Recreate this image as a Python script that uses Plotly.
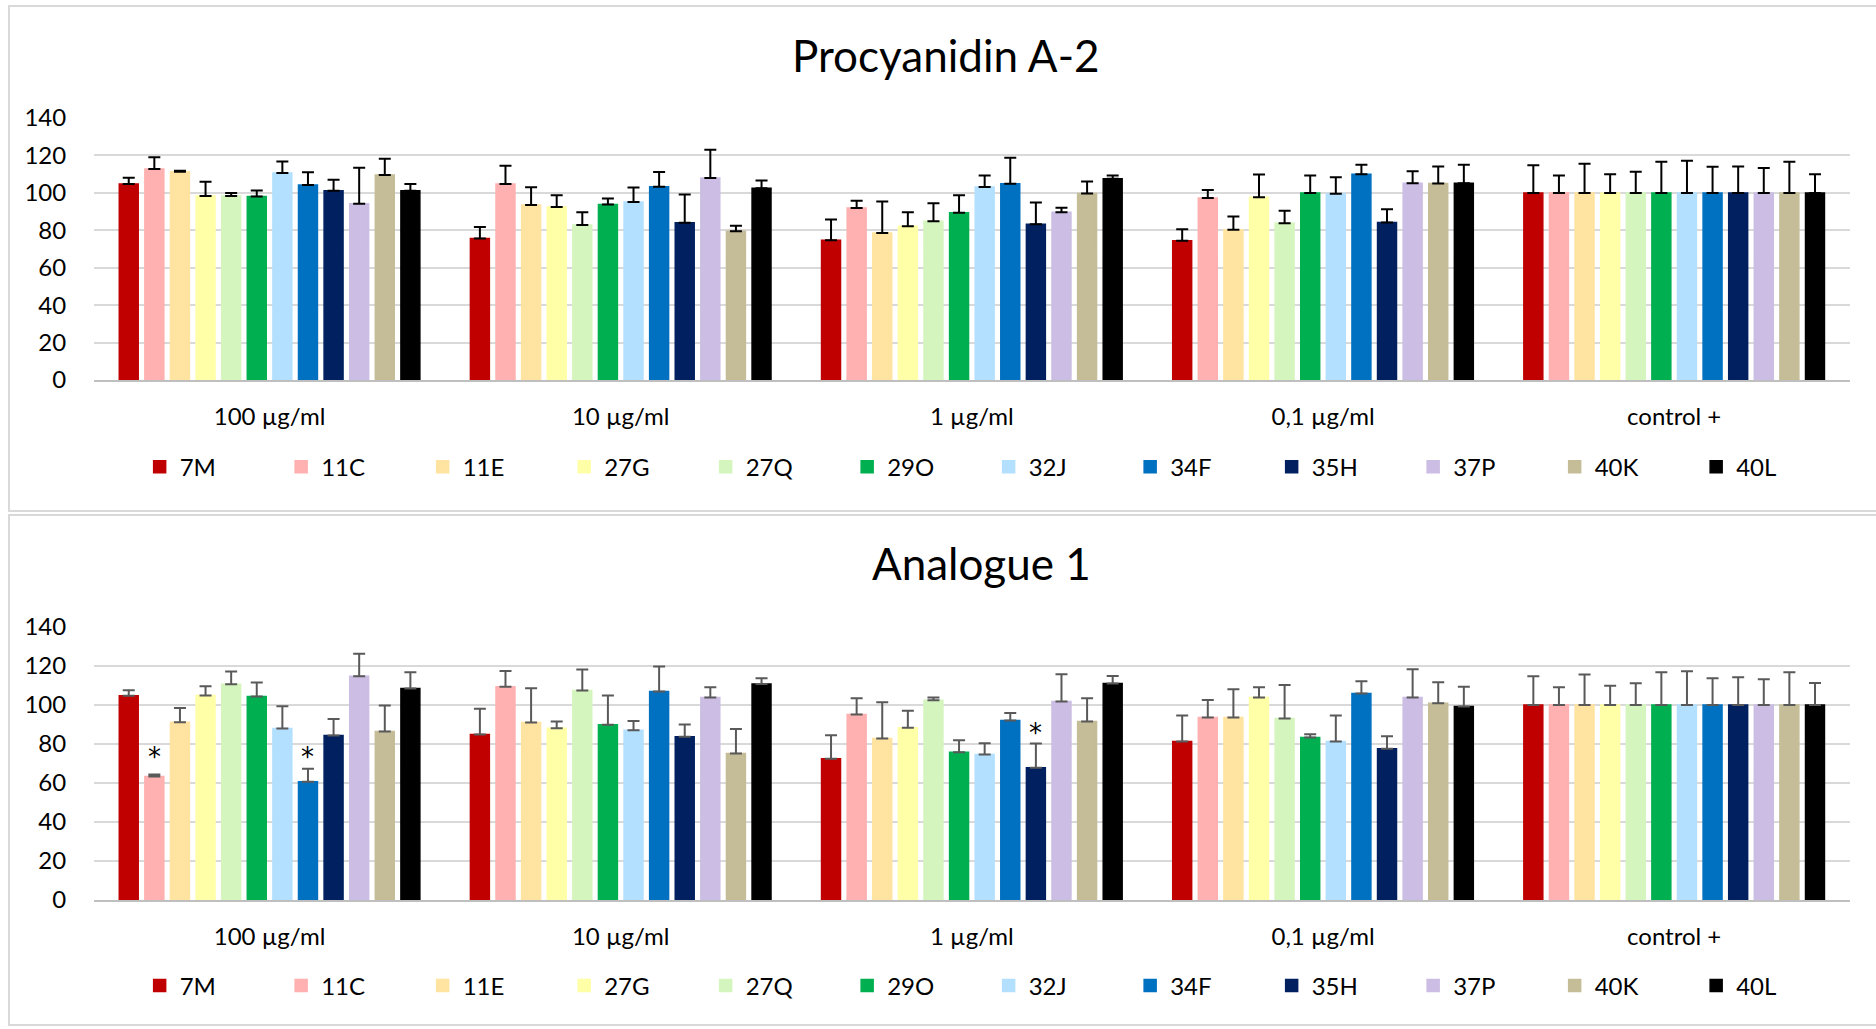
import plotly.graph_objects as go

categories = ["100 µg/ml", "10 µg/ml", "1 µg/ml", "0,1 µg/ml", "control +"]
strains = ["7M", "11C", "11E", "27G", "27Q", "29O", "32J", "34F", "35H", "37P", "40K", "40L"]
colors = ["#C00000", "#FFB0B0", "#FFE3A0", "#FFFFA8", "#D5F5BE", "#00B050",
          "#B3E0FF", "#0070C0", "#002060", "#CBBDE3", "#C4BD97", "#000000"]
y_ticks = [0, 20, 40, 60, 80, 100, 120, 140]

# Procyanidin A-2 (one value per strain, per concentration)
pa2_100 = [104.7, 112.7, 111.3, 98.4, 98.4, 98.1, 110.6, 104.2, 101.1, 94.2, 109.5, 101.1]
pa2_100_err = [3.4, 6.3, 0.5, 7.5, 1.5, 3.2, 6.2, 6.8, 5.9, 19.2, 8.7, 3.6]
pa2_10 = [75.6, 104.7, 93.5, 92.4, 82.8, 93.8, 95.1, 103.3, 84.0, 107.9, 79.5, 102.5]
pa2_10_err = [6.2, 9.8, 9.5, 6.4, 6.8, 3.2, 7.8, 7.8, 15.2, 15.2, 3.0, 4.1]
pa2_1 = [74.7, 91.9, 78.5, 82.2, 84.9, 89.4, 103.1, 104.9, 83.3, 89.7, 99.7, 107.5]
pa2_1_err = [11.1, 3.9, 16.9, 7.5, 9.5, 9.3, 6.2, 13.9, 11.6, 2.3, 6.4, 1.8]
pa2_01 = [74.4, 97.2, 80.3, 97.7, 83.8, 99.9, 99.5, 109.9, 84.2, 105.2, 105.0, 105.2]
pa2_01_err = [6.1, 4.3, 7.1, 12.1, 6.6, 9.4, 8.9, 5.2, 7.0, 6.4, 9.1, 9.8]
pa2_ctrl = [100, 100, 100, 100, 100, 100, 100, 100, 100, 100, 100, 100]
pa2_ctrl_err = [14.7, 9.3, 15.6, 9.9, 11.3, 16.6, 17.2, 14.0, 14.1, 13.3, 16.6, 9.9]

# Analogue 1
an1_100 = [104.7, 63.3, 91.2, 104.8, 110.6, 104.3, 87.9, 60.6, 84.3, 114.7, 86.4, 108.4]
an1_100_err = [2.9, 1.0, 7.2, 4.8, 6.5, 7.2, 11.4, 6.7, 8.5, 11.6, 13.3, 8.4]
an1_10 = [84.9, 109.4, 91.0, 88.1, 107.4, 89.8, 87.0, 106.9, 83.7, 103.8, 75.1, 110.8]
an1_10_err = [13.1, 8.0, 17.6, 3.4, 10.8, 15.0, 4.8, 12.8, 6.3, 5.3, 12.6, 2.9]
an1_1 = [72.4, 95.1, 82.8, 88.3, 102.4, 75.8, 74.6, 92.0, 67.8, 101.8, 91.5, 111.0]
an1_1_err = [12.1, 8.4, 18.6, 8.7, 1.4, 6.1, 5.8, 3.9, 12.5, 14.0, 12.0, 3.8]
an1_01 = [81.3, 93.6, 93.6, 103.8, 93.1, 83.3, 81.3, 105.9, 77.5, 103.8, 100.9, 99.2]
an1_01_err = [13.3, 8.9, 14.5, 5.3, 17.1, 1.7, 13.3, 6.3, 6.5, 14.5, 10.8, 10.1]
an1_ctrl = [100, 100, 100, 100, 100, 100, 100, 100, 100, 100, 100, 100]
an1_ctrl_err = [14.7, 9.1, 15.6, 9.8, 11.1, 16.8, 17.3, 13.7, 14.2, 13.2, 16.8, 11.3]

# significance stars on Analogue 1: (category index, strain index, y of star)
star_cat = [0, 0, 2]
star_strain = [1, 7, 8]
star_y = [74.6, 74.6, 87.4]

FONT = "Lato"
BARGAP = 0.125
BARGROUPGAP = 0.26

pa2_vals = [pa2_100, pa2_10, pa2_1, pa2_01, pa2_ctrl]
pa2_errs = [pa2_100_err, pa2_10_err, pa2_1_err, pa2_01_err, pa2_ctrl_err]
an1_vals = [an1_100, an1_10, an1_1, an1_01, an1_ctrl]
an1_errs = [an1_100_err, an1_10_err, an1_1_err, an1_01_err, an1_ctrl_err]

fig = go.Figure()

for i, s in enumerate(strains):
    fig.add_trace(go.Bar(
        x=categories, y=[v[i] for v in pa2_vals], name=s,
        marker=dict(color=colors[i], line=dict(width=1.5, color=colors[i])),
        error_y=dict(type="data", symmetric=False,
                     array=[e[i] for e in pa2_errs], arrayminus=[0] * 5,
                     color="#000000", thickness=2, width=6),
        xaxis="x", yaxis="y", legend="legend", offsetgroup=str(i),
    ))
for i, s in enumerate(strains):
    fig.add_trace(go.Bar(
        x=categories, y=[v[i] for v in an1_vals], name=s,
        marker=dict(color=colors[i], line=dict(width=1.5, color=colors[i])),
        error_y=dict(type="data", symmetric=False,
                     array=[e[i] for e in an1_errs], arrayminus=[0] * 5,
                     color="#595959", thickness=2, width=6),
        xaxis="x2", yaxis="y2", legend="legend2", offsetgroup=str(i),
    ))

n = len(strains)
annotations = []
for c, si, yv in zip(star_cat, star_strain, star_y):
    xpos = c + (si - (n - 1) / 2) * (1 - BARGAP) / n
    annotations.append(dict(x=xpos, y=yv, xref="x2", yref="y2", text="*",
                            showarrow=False, xanchor="center", yanchor="middle",
                            font=dict(family="DejaVu Sans", size=26, color="#000000"),
                            yshift=-3))

annotations.append(dict(x=0.504, y=0.9466, xref="paper", yref="paper", text="Procyanidin A-2",
                        showarrow=False, xanchor="center", yanchor="middle",
                        font=dict(family=FONT, size=44, color="#000000")))
annotations.append(dict(x=0.523, y=0.4528, xref="paper", yref="paper", text="Analogue 1",
                        showarrow=False, xanchor="center", yanchor="middle",
                        font=dict(family=FONT, size=44, color="#000000")))

xdom = [0.0501, 0.986]
xaxis_common = dict(domain=xdom, showline=True, linecolor="#BFBFBF", linewidth=2,
                    showgrid=False, ticks="outside", ticklen=14, tickcolor="rgba(0,0,0,0)",
                    tickfont=dict(family=FONT, size=24, color="#000000"), fixedrange=True,
                    automargin=False)
yaxis_common = dict(range=[0, 140], tickvals=y_ticks, showgrid=True, gridcolor="#D9D9D9",
                    gridwidth=1.5, zeroline=False, showline=False, ticks="outside",
                    ticklen=22, tickcolor="rgba(0,0,0,0)",
                    tickfont=dict(family=FONT, size=24, color="#000000"), fixedrange=True,
                    automargin=False)

legend_common = dict(orientation="h", xanchor="center", yanchor="middle",
                     font=dict(family=FONT, size=24, color="#000000"),
                     itemwidth=30, entrywidth=96.5, entrywidthmode="pixels",
                     bgcolor="rgba(0,0,0,0)", traceorder="normal")

fig.update_layout(
    width=1876, height=1029,
    margin=dict(l=0, r=0, t=0, b=0, pad=0, autoexpand=False),
    paper_bgcolor="#FFFFFF", plot_bgcolor="#FFFFFF",
    barmode="group", bargap=BARGAP, bargroupgap=BARGROUPGAP,
    font=dict(family=FONT, color="#000000"),
    xaxis=dict(xaxis_common, anchor="y"),
    yaxis=dict(yaxis_common, domain=[0.6307, 0.8853], anchor="x"),
    xaxis2=dict(xaxis_common, anchor="y2"),
    yaxis2=dict(yaxis_common, domain=[0.1254, 0.3907], anchor="x2"),
    legend=dict(legend_common, x=0.527, y=0.546),
    legend2=dict(legend_common, x=0.527, y=0.0418),
    annotations=annotations,
    shapes=[
        dict(type="rect", xref="paper", yref="paper", x0=0.0048, x1=1.01, y0=0.5034, y1=0.9942,
             line=dict(color="#D9D9D9", width=2), layer="below"),
        dict(type="rect", xref="paper", yref="paper", x0=0.0048, x1=1.01, y0=0.0039, y1=0.4995,
             line=dict(color="#D9D9D9", width=2), layer="below"),
    ],
    showlegend=True,
)

fig.write_html("out.html", config={"displayModeBar": False},
               post_script="document.body.style.margin='0';")
